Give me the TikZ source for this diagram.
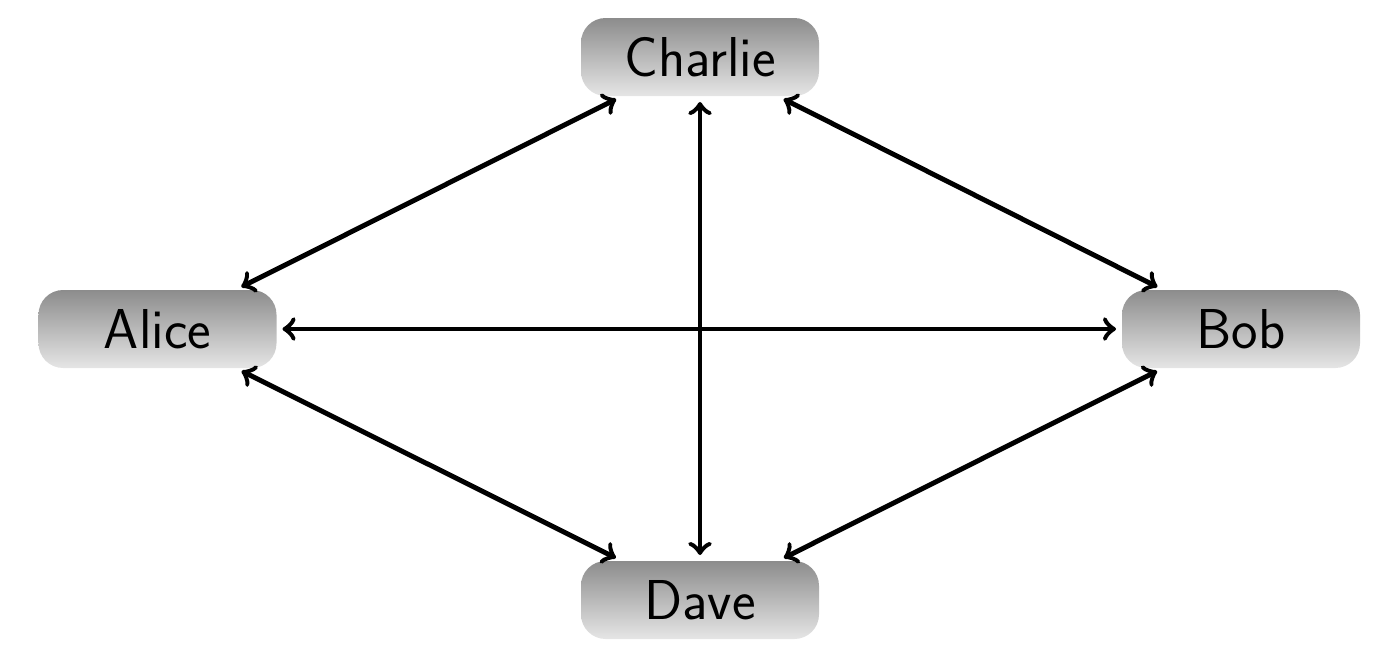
\documentclass[tikz,border=0pt]{standalone}
\usepackage{tikz}
\usetikzlibrary{arrows}
\usetikzlibrary{positioning}
\tikzset{person/.style = {rounded corners = 7pt, top color = gray!90, bottom color = gray!20,
                          minimum width = 2.38cm, minimum height = 0.78cm, inner sep = 0,
                          font = \sffamily\fontsize{16}{19}\selectfont}}
\tikzset{link/.style = {<->, >=to, line width = 1.4pt, shorten <= 1.5pt, shorten >= 1.5pt}}

\begin{document}
\begin{tikzpicture}
      \useasboundingbox (0, 0) rectangle (14, 6.57);
      \node [person] (charlie) at (7, 6) {Charlie};
      \node [person] (alice) at (1.575, 3.28) {Alice};
      \node [person] (bob) at (12.41, 3.28) {Bob};
      \node [person] (dave) at (7, 0.57) {Dave};

      \draw [link] (alice) -- (charlie);
      \draw [link] (charlie) -- (bob);
      \draw [link] (alice) -- (bob);
      \draw [link] (charlie) -- (dave);
      \draw [link] (alice) -- (dave);
      \draw [link] (bob) -- (dave);
    \end{tikzpicture}
\end{document}
